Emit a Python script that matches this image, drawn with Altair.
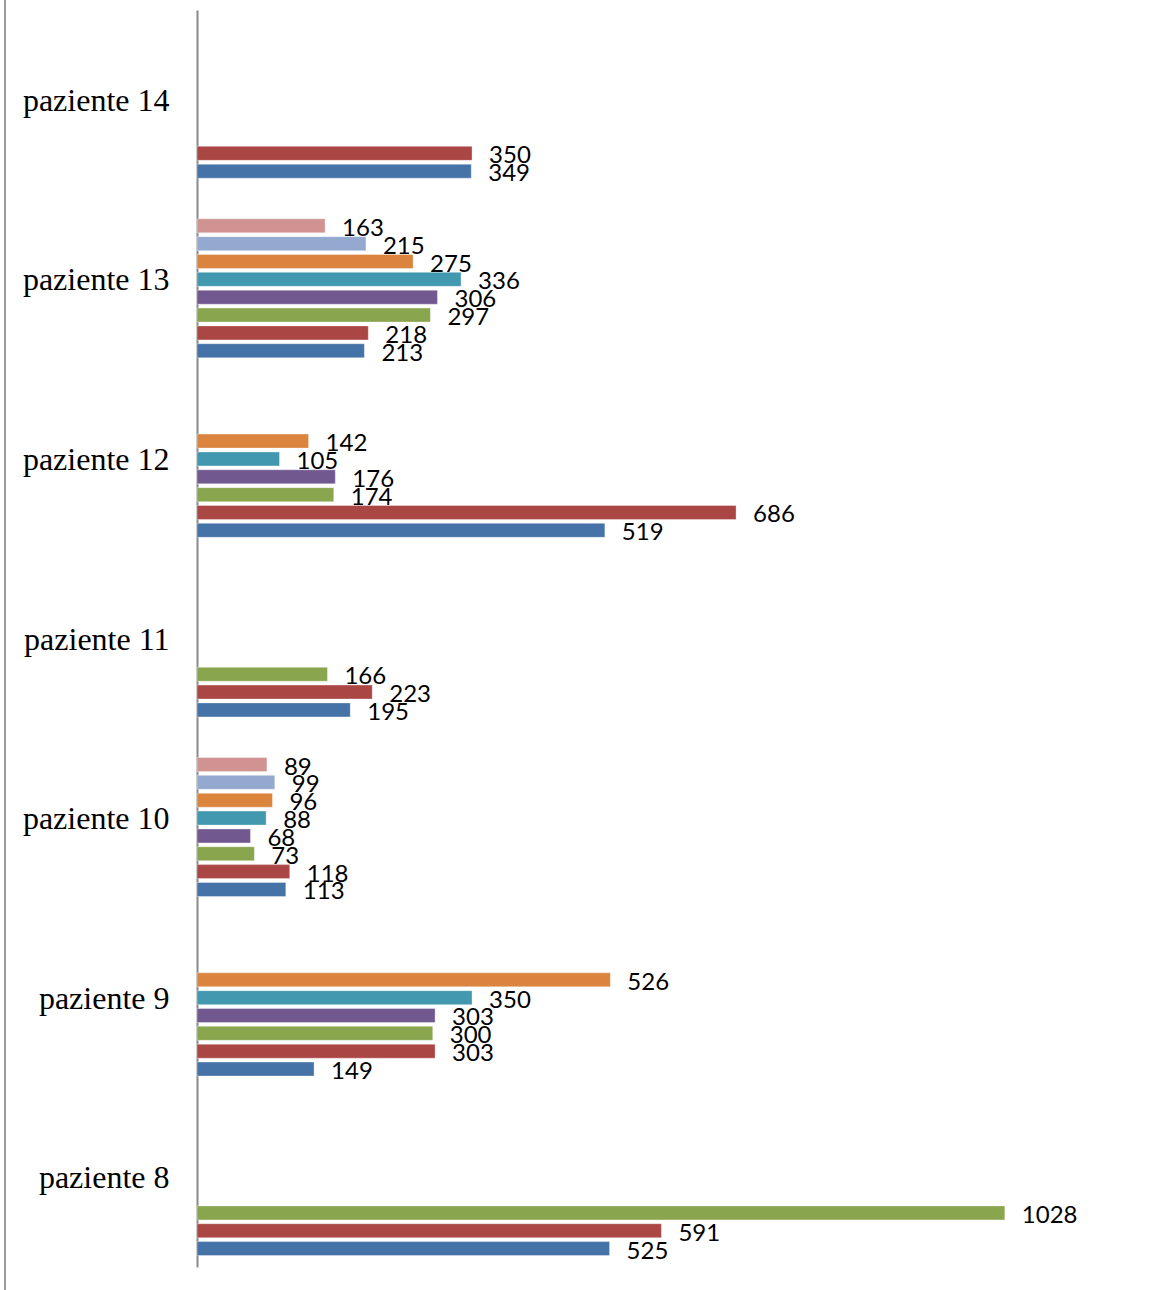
import altair as alt
import pandas as pd

# Patients, listed top to bottom as drawn
patients = ["paziente 14", "paziente 13", "paziente 12", "paziente 11",
            "paziente 10", "paziente 9", "paziente 8"]

# One list per series, aligned with `patients` (None = no measurement)
serie_1 = [349, 213, 519, 195, 113, 149, 525]
serie_2 = [350, 218, 686, 223, 118, 303, 591]
serie_3 = [None, 297, 174, 166, 73, 300, 1028]
serie_4 = [None, 306, 176, None, 68, 303, None]
serie_5 = [None, 336, 105, None, 88, 350, None]
serie_6 = [None, 275, 142, None, 96, 526, None]
serie_7 = [None, 215, None, None, 99, None, None]
serie_8 = [None, 163, None, None, 89, None, None]
serie_9 = [None, None, None, None, None, None, None]

series_names = ["serie 1", "serie 2", "serie 3", "serie 4", "serie 5",
                "serie 6", "serie 7", "serie 8", "serie 9"]
series_values = [serie_1, serie_2, serie_3, serie_4, serie_5,
                 serie_6, serie_7, serie_8, serie_9]
series_colors = ["#4572A7", "#AA4643", "#89A54E", "#71588F", "#4198AF",
                 "#DB843D", "#93A9CF", "#D19392", "#A47D7C"]

rows = []
for name, values in zip(series_names, series_values):
    for patient, v in zip(patients, values):
        if v is not None:
            rows.append({"paziente": patient, "serie": name, "valore": v})
df = pd.DataFrame(rows)

# First series sits at the bottom of each group
offset_domain = list(reversed(series_names))

y_enc = alt.Y(
    "paziente:N",
    sort=patients,
    scale=alt.Scale(paddingInner=0, paddingOuter=0),
    axis=alt.Axis(
        title=None,
        ticks=False,
        grid=False,
        domain=True,
        domainColor="#8a8a8a",
        domainWidth=2,
        labelFont="Liberation Serif",
        labelFontSize=32,
        labelColor="#000000",
        labelPadding=28,
        labelOffset=1,
        labelAlign="right",
        labelBaseline="middle",
    ),
)
yoff_enc = alt.YOffset(
    "serie:N",
    scale=alt.Scale(domain=offset_domain, paddingInner=0.216, paddingOuter=0.638),
)
x_enc = alt.X("valore:Q", scale=alt.Scale(domain=[0, 1200], nice=False), axis=None)

base = alt.Chart(df)

bars = base.mark_bar(stroke="#ffffff", strokeWidth=1, strokeOpacity=0.35).encode(
    y=y_enc,
    yOffset=yoff_enc,
    x=x_enc,
    color=alt.Color("serie:N",
                    scale=alt.Scale(domain=series_names, range=series_colors),
                    legend=None),
)

labels = base.mark_text(
    align="left", baseline="middle", dx=17, dy=3,
    font="Lato", fontSize=24, color="#000000",
).encode(
    y=y_enc,
    yOffset=yoff_enc,
    x=x_enc,
    text=alt.Text("valore:Q", format="d"),
)

# Thin frame line along the left edge
frame = alt.Chart(pd.DataFrame({"k": [0]})).mark_rule(
    color="#9a9a9a", strokeWidth=2
).encode(x=alt.value(-192), y=alt.value(-12), y2=alt.value(1282))

chart = alt.layer(bars, labels, frame).properties(
    width=943,
    height=1257,
    autosize=alt.AutoSizeParams(type="none"),
    padding={"left": 197, "top": 10, "right": 28, "bottom": 23},
    background="#ffffff",
).configure_view(stroke=None)

chart.save("out.html", embed_options={"renderer": "svg", "actions": False})
